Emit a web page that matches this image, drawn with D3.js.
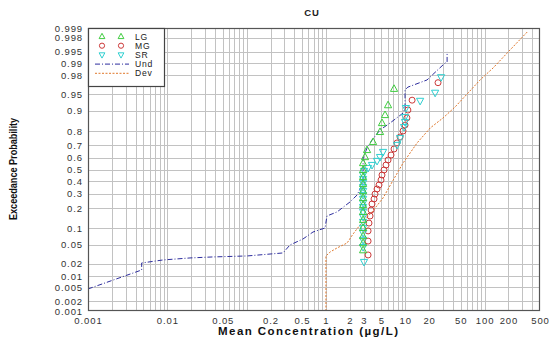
<!DOCTYPE html>
<html>
<head>
<meta charset="utf-8">
<script src="https://cdn.jsdelivr.net/npm/d3@7"></script>
<style>
  html, body { margin: 0; padding: 0; background: #fff; }
  svg { display: block; }
  .tick text { font-family: "Liberation Sans", Arial, sans-serif; font-size: 9.5px; fill: #333; letter-spacing: 0.9px; }
</style>
</head>
<body>
<svg id="chart" width="551" height="339"></svg>
<script>
// ---- Data: mean concentration (µg/L) and cumulative probability per group ----
const lgConc = [7.22, 6.07, 5.56, 5.09, 4.81, 3.93, 3.30, 3.11, 2.94, 2.94, 2.94, 2.94, 2.94, 2.94, 2.94, 2.94, 2.94, 2.94, 2.94, 2.94, 2.94];
const lgProb = [0.961, 0.920, 0.883, 0.845, 0.794, 0.726, 0.665, 0.607, 0.556, 0.496, 0.435, 0.376, 0.319, 0.267, 0.219, 0.177, 0.135, 0.101, 0.073, 0.054, 0.039];

const mgConc = [25.9, 12.2, 10.8, 10.5, 9.94, 9.38, 8.60, 7.88, 7.22, 6.62, 6.07, 5.72, 5.40, 5.09, 4.95, 4.67, 4.41, 4.16, 4.04, 3.81, 3.71, 3.60, 3.49, 3.40, 3.40, 3.40];
const mgProb = [0.971, 0.935, 0.903, 0.870, 0.834, 0.800, 0.761, 0.719, 0.673, 0.624, 0.582, 0.539, 0.496, 0.452, 0.409, 0.368, 0.335, 0.296, 0.260, 0.226, 0.188, 0.155, 0.121, 0.090, 0.059, 0.031];

const srConc = [28.3, 23.8, 15.4, 10.2, 9.94, 9.94, 9.66, 8.60, 7.88, 5.25, 4.81, 4.41, 3.81, 3.40, 3.02, 2.94, 2.94, 2.94, 2.94, 2.94, 2.94, 2.94, 2.94, 2.94, 2.94, 2.94, 2.94, 2.94, 2.94, 2.94, 2.94, 3.02];
const srProb = [0.978, 0.953, 0.933, 0.910, 0.874, 0.850, 0.823, 0.754, 0.704, 0.649, 0.607, 0.574, 0.539, 0.513, 0.487, 0.452, 0.418, 0.384, 0.351, 0.319, 0.289, 0.260, 0.232, 0.206, 0.177, 0.150, 0.126, 0.101, 0.083, 0.062, 0.045, 0.0217];

const undConc = [0.001, 0.00475, 0.00475, 0.0088, 0.0193, 0.0377, 0.101, 0.288, 0.352, 0.514, 0.687, 0.975, 1.03, 1.38, 2.01, 2.47, 2.94, 2.94, 3.30, 3.81, 4.81, 6.43, 9.38, 9.94, 9.94, 10.8, 18.8, 31.8, 33.7, 33.7];
const undProb = [0.00454, 0.0141, 0.0206, 0.0241, 0.0267, 0.0281, 0.0295, 0.0342, 0.0497, 0.0646, 0.0861, 0.1008, 0.155, 0.177, 0.239, 0.289, 0.384, 0.599, 0.681, 0.740, 0.806, 0.845, 0.891, 0.910, 0.959, 0.964, 0.9747, 0.990, 0.9905, 0.9949];

const devConc = [1.0, 1.0, 1.13, 1.38, 1.85, 2.20, 2.69, 3.81, 5.25, 6.82, 9.38, 14.1, 20.6, 30.0, 42.5, 61.9, 87.7, 128, 210, 354];
const devProb = [0.001, 0.0295, 0.0358, 0.0433, 0.0543, 0.0796, 0.113, 0.177, 0.267, 0.392, 0.556, 0.719, 0.8175, 0.870, 0.914, 0.9526, 0.9747, 0.9867, 0.9955, 0.99875];

// ---- Axis ticks ----
const xTickValues = [0.001, 0.01, 0.05, 0.2, 0.5, 1, 2, 3, 5, 10, 20, 50, 100, 200, 500];
const xTickLabels = ["0.001", "0.01", "0.05", "0.2", "0.5", "1", "2", "3", "5", "10", "20", "50", "100", "200", "500"];
const yTickValues = [0.001, 0.002, 0.005, 0.01, 0.02, 0.05, 0.1, 0.2, 0.3, 0.4, 0.5, 0.6, 0.7, 0.8, 0.9, 0.95, 0.98, 0.99, 0.995, 0.998, 0.999];
const yTickLabels = ["0.001", "0.002", "0.005", "0.01", "0.02", "0.05", "0.1", "0.2", "0.3", "0.4", "0.5", "0.6", "0.7", "0.8", "0.9", "0.95", "0.98", "0.99", "0.995", "0.998", "0.999"];

// Inverse standard normal CDF (Acklam's rational approximation)
function probit(p) {
  const a = [-3.969683028665376e+01, 2.209460984245205e+02, -2.759285104469687e+02, 1.383577518672690e+02, -3.066479806614716e+01, 2.506628277459239e+00];
  const b = [-5.447609879822406e+01, 1.615858368580409e+02, -1.556989798598866e+02, 6.680131188771972e+01, -1.328068155288572e+01];
  const c = [-7.784894002430293e-03, -3.223964580411365e-01, -2.400758277161838e+00, -2.549732539343734e+00, 4.374664141464968e+00, 2.938163982698783e+00];
  const d = [7.784695709041462e-03, 3.224671290700398e-01, 2.445134137142996e+00, 3.754408661907416e+00];
  const pl = 0.02425, ph = 1 - pl;
  let q, r;
  if (p < pl) {
    q = Math.sqrt(-2 * Math.log(p));
    return (((((c[0]*q+c[1])*q+c[2])*q+c[3])*q+c[4])*q+c[5]) / ((((d[0]*q+d[1])*q+d[2])*q+d[3])*q+1);
  }
  if (p <= ph) {
    q = p - 0.5; r = q * q;
    return (((((a[0]*r+a[1])*r+a[2])*r+a[3])*r+a[4])*r+a[5])*q / (((((b[0]*r+b[1])*r+b[2])*r+b[3])*r+b[4])*r+1);
  }
  q = Math.sqrt(-2 * Math.log(1 - p));
  return -(((((c[0]*q+c[1])*q+c[2])*q+c[3])*q+c[4])*q+c[5]) / ((((d[0]*q+d[1])*q+d[2])*q+d[3])*q+1);
}

const plot = { left: 88, right: 540, top: 28, bottom: 311 };

const svg = d3.select("#chart");

const x = d3.scaleLog().domain([0.001, 500]).range([plot.left, plot.right]);
const yz = d3.scaleLinear().domain([probit(0.001), probit(0.999)]).range([plot.bottom, plot.top]);
const y = p => yz(probit(p));

const colors = { LG: "#3fcc3f", MG: "#cc3a3a", SR: "#2fcfd0", Und: "#2e2e9e", Dev: "#e0782c" };

// ---- Grid ----
const grid = svg.append("g").attr("stroke", "#c2c2c2").attr("stroke-width", 1);
const minorX = [];
for (let e = -3; e <= 2; e++) {
  for (let m = 1; m <= 9; m++) {
    const v = m * Math.pow(10, e);
    if (v > 0.001 * 1.0001 && v < 500 * 0.9999) minorX.push(v);
  }
}
grid.selectAll("line.vx").data(minorX).join("line")
  .attr("x1", d => Math.round(x(d)) + 0.5).attr("x2", d => Math.round(x(d)) + 0.5)
  .attr("y1", plot.top).attr("y2", plot.bottom);
grid.selectAll("line.hy").data(yTickValues.slice(1, -1)).join("line")
  .attr("x1", plot.left).attr("x2", plot.right)
  .attr("y1", d => Math.round(y(d)) + 0.5).attr("y2", d => Math.round(y(d)) + 0.5);

// ---- Axes (labels only, no tick marks) ----
const xAxis = d3.axisBottom(x).tickValues(xTickValues).tickSize(0).tickPadding(6)
  .tickFormat((d, i) => xTickLabels[i]);
svg.append("g").attr("transform", `translate(0,${plot.bottom})`).call(xAxis)
  .call(g => g.select(".domain").remove());

const yAxis = d3.axisLeft(yz).tickValues(yTickValues.map(probit)).tickSize(0).tickPadding(5)
  .tickFormat((d, i) => yTickLabels[i]);
svg.append("g").attr("transform", `translate(${plot.left},0)`).call(yAxis)
  .call(g => g.select(".domain").remove());

// ---- Clip for series ----
svg.append("clipPath").attr("id", "clip").append("rect")
  .attr("x", plot.left).attr("y", plot.top)
  .attr("width", plot.right - plot.left).attr("height", plot.bottom - plot.top);
const layer = svg.append("g").attr("clip-path", "url(#clip)");

const line = d3.line().x(d => x(d[0])).y(d => y(d[1]));

// Dev line (orange, fine dotted)
layer.append("path")
  .datum(devConc.map((c, i) => [c, devProb[i]]))
  .attr("d", line).attr("fill", "none")
  .attr("stroke", colors.Dev).attr("stroke-width", 1)
  .attr("stroke-dasharray", "2,1.5");

// Und line (blue, dash-dot)
layer.append("path")
  .datum(undConc.map((c, i) => [c, undProb[i]]))
  .attr("d", line).attr("fill", "none")
  .attr("stroke", colors.Und).attr("stroke-width", 1)
  .attr("stroke-dasharray", "5,2,1,2");

// Marker shapes
const triUp = s => `M0,${-4*s}L${3.6*s},${2.6*s}L${-3.6*s},${2.6*s}Z`;
const triDown = s => `M0,${4*s}L${3.6*s},${-2.6*s}L${-3.6*s},${-2.6*s}Z`;

// MG circles
layer.append("g").selectAll("circle")
  .data(mgConc.map((c, i) => [c, mgProb[i]])).join("circle")
  .attr("cx", d => x(d[0])).attr("cy", d => y(d[1])).attr("r", 3)
  .attr("fill", "none").attr("stroke", colors.MG).attr("stroke-width", 1);

// SR down-triangles
layer.append("g").selectAll("path")
  .data(srConc.map((c, i) => [c, srProb[i]])).join("path")
  .attr("transform", d => `translate(${x(d[0])},${y(d[1])})`)
  .attr("d", triDown(1))
  .attr("fill", "none").attr("stroke", colors.SR).attr("stroke-width", 1);

// LG up-triangles
layer.append("g").selectAll("path")
  .data(lgConc.map((c, i) => [c, lgProb[i]])).join("path")
  .attr("transform", d => `translate(${x(d[0])},${y(d[1])})`)
  .attr("d", triUp(1))
  .attr("fill", "none").attr("stroke", colors.LG).attr("stroke-width", 1);

// ---- Plot frame ----
svg.append("rect")
  .attr("x", plot.left + 0.5).attr("y", plot.top + 0.5)
  .attr("width", plot.right - plot.left - 1).attr("height", plot.bottom - plot.top - 1)
  .attr("fill", "none").attr("stroke", "#555").attr("stroke-width", 1.2);

// ---- Legend ----
const legend = svg.append("g");
legend.append("rect")
  .attr("x", plot.left + 0.5).attr("y", plot.top + 0.5)
  .attr("width", 76).attr("height", 58)
  .attr("fill", "#fff").attr("stroke", "#444").attr("stroke-width", 1.2);
const legendItems = [
  { name: "LG", kind: "up" },
  { name: "MG", kind: "circle" },
  { name: "SR", kind: "down" },
  { name: "Und", kind: "dashdot" },
  { name: "Dev", kind: "dotted" }
];
legendItems.forEach((it, i) => {
  const cy = 36.5 + i * 9.2;
  const g = legend.append("g");
  if (it.kind === "up" || it.kind === "down") {
    [102, 121].forEach(cx => g.append("path")
      .attr("transform", `translate(${cx},${cy})`)
      .attr("d", it.kind === "up" ? triUp(0.8) : triDown(0.8))
      .attr("fill", "none").attr("stroke", colors[it.name]).attr("stroke-width", 1));
  } else if (it.kind === "circle") {
    [102, 121].forEach(cx => g.append("circle")
      .attr("cx", cx).attr("cy", cy).attr("r", 2.6)
      .attr("fill", "none").attr("stroke", colors[it.name]).attr("stroke-width", 1));
  } else {
    g.append("line").attr("x1", 95).attr("x2", 129).attr("y1", cy).attr("y2", cy)
      .attr("stroke", colors[it.name]).attr("stroke-width", 1)
      .attr("stroke-dasharray", it.kind === "dashdot" ? "5,2,1,2" : "2,1.5");
  }
  g.append("text").attr("x", 135).attr("y", cy + 3.1)
    .attr("font-family", "Liberation Sans, Arial, sans-serif").attr("font-size", 8.6)
    .attr("letter-spacing", "0.8px").attr("fill", "#222")
    .text(it.name);
});

// ---- Titles ----
svg.append("text")
  .attr("x", 312).attr("y", 16).attr("text-anchor", "middle")
  .attr("font-family", "Liberation Sans, Arial, sans-serif").attr("font-weight", "bold")
  .attr("font-size", 9.5).attr("letter-spacing", "0.8px").attr("fill", "#222")
  .text("CU");

svg.append("text")
  .attr("x", 308).attr("y", 335).attr("text-anchor", "middle")
  .attr("font-family", "Liberation Sans, Arial, sans-serif").attr("font-weight", "bold")
  .attr("font-size", 11.5).attr("fill", "#111")
  .attr("textLength", 180).attr("lengthAdjust", "spacing")
  .text("Mean Concentration (µg/L)");

svg.append("text")
  .attr("transform", "translate(17,169) rotate(-90)").attr("text-anchor", "middle")
  .attr("font-family", "Liberation Sans, Arial, sans-serif")
  .attr("font-weight", "bold").attr("font-size", 11).attr("fill", "#111")
  .attr("textLength", 102).attr("lengthAdjust", "spacingAndGlyphs")
  .text("Exceedance Probability");
</script>
</body>
</html>
